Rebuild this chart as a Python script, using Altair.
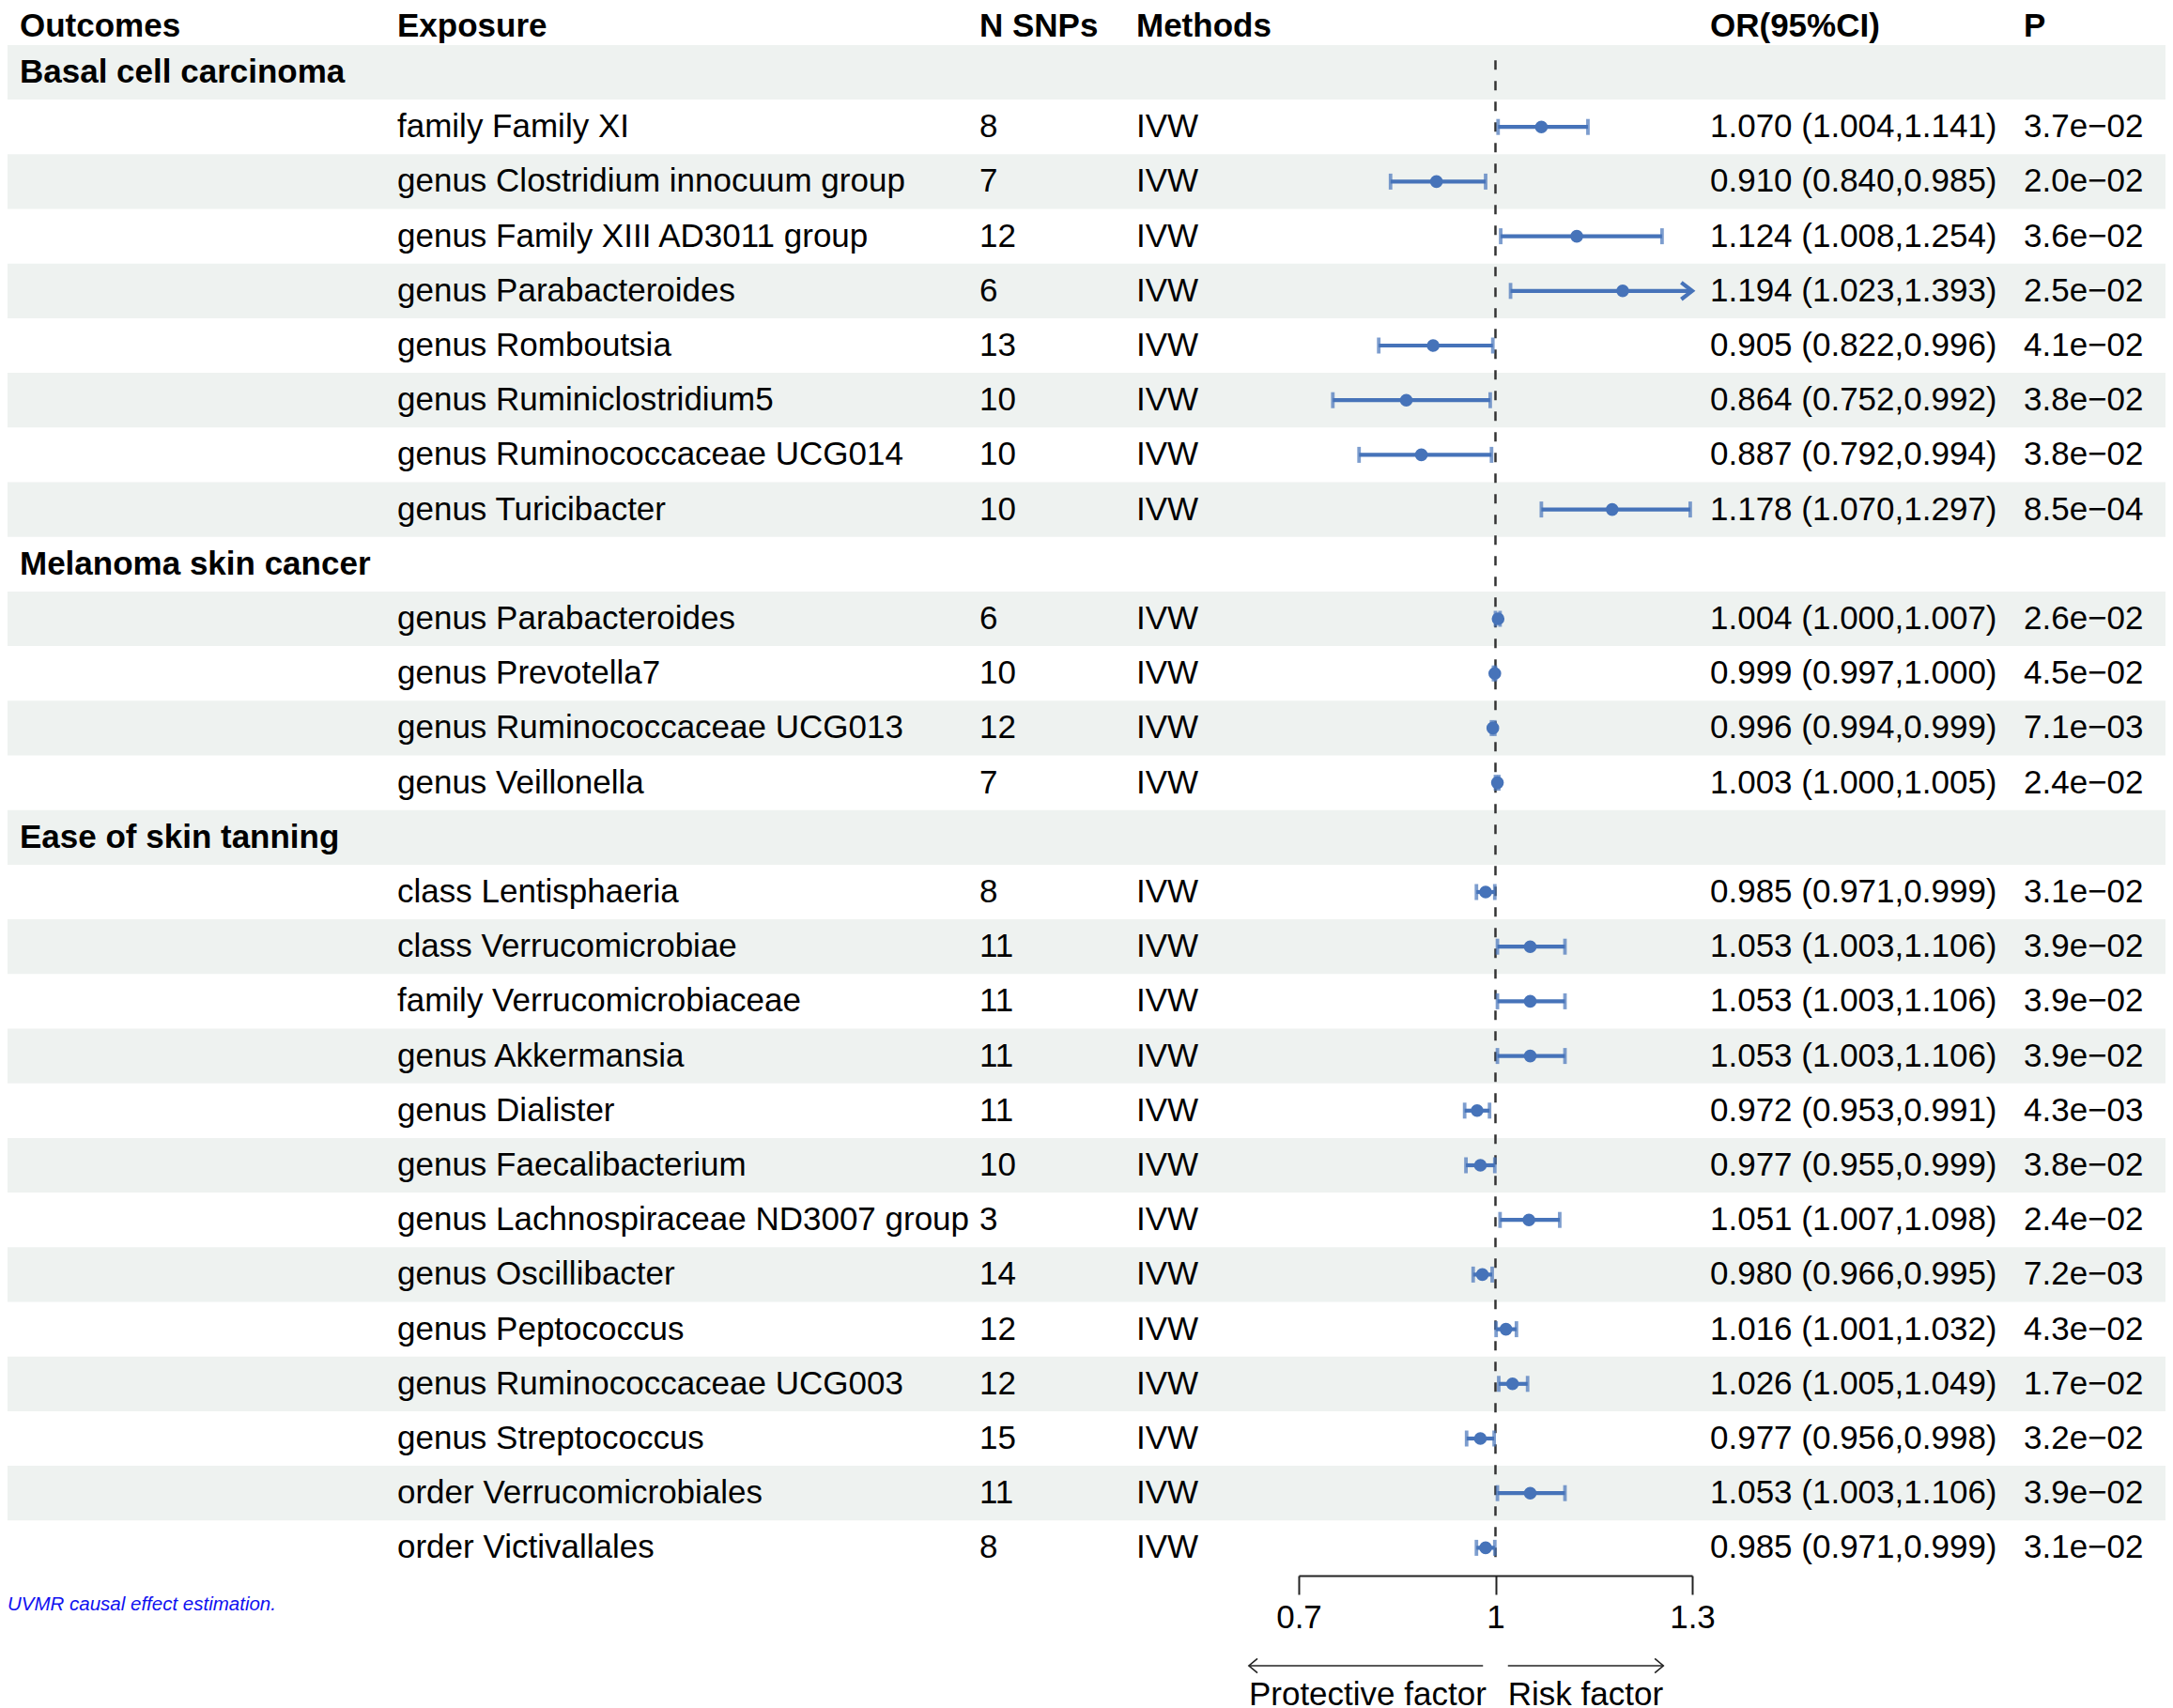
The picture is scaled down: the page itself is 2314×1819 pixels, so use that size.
import altair as alt
import pandas as pd

FONT = "Liberation Sans"
BLUE = "#4673B9"
BAND = "#EEF2F0"

# ---------------- data ----------------
outcomes = ["Basal cell carcinoma", "Melanoma skin cancer", "Ease of skin tanning"]
group_sizes = [8, 4, 13]

exposures = [
    "family Family XI", "genus Clostridium innocuum group", "genus Family XIII AD3011 group",
    "genus Parabacteroides", "genus Romboutsia", "genus Ruminiclostridium5",
    "genus Ruminococcaceae UCG014", "genus Turicibacter",
    "genus Parabacteroides", "genus Prevotella7", "genus Ruminococcaceae UCG013", "genus Veillonella",
    "class Lentisphaeria", "class Verrucomicrobiae", "family Verrucomicrobiaceae", "genus Akkermansia",
    "genus Dialister", "genus Faecalibacterium", "genus Lachnospiraceae ND3007 group",
    "genus Oscillibacter", "genus Peptococcus", "genus Ruminococcaceae UCG003",
    "genus Streptococcus", "order Verrucomicrobiales", "order Victivallales",
]
n_snps = [8, 7, 12, 6, 13, 10, 10, 10,
          6, 10, 12, 7,
          8, 11, 11, 11, 11, 10, 3, 14, 12, 12, 15, 11, 8]
methods = ["IVW"] * 25
or_vals = [1.070, 0.910, 1.124, 1.194, 0.905, 0.864, 0.887, 1.178,
           1.004, 0.999, 0.996, 1.003,
           0.985, 1.053, 1.053, 1.053, 0.972, 0.977, 1.051, 0.980, 1.016, 1.026, 0.977, 1.053, 0.985]
lower = [1.004, 0.840, 1.008, 1.023, 0.822, 0.752, 0.792, 1.070,
         1.000, 0.997, 0.994, 1.000,
         0.971, 1.003, 1.003, 1.003, 0.953, 0.955, 1.007, 0.966, 1.001, 1.005, 0.956, 1.003, 0.971]
upper = [1.141, 0.985, 1.254, 1.393, 0.996, 0.992, 0.994, 1.297,
         1.007, 1.000, 0.999, 1.005,
         0.999, 1.106, 1.106, 1.106, 0.991, 0.999, 1.098, 0.995, 1.032, 1.049, 0.998, 1.106, 0.999]
p_vals = [3.7e-02, 2.0e-02, 3.6e-02, 2.5e-02, 4.1e-02, 3.8e-02, 3.8e-02, 8.5e-04,
          2.6e-02, 4.5e-02, 7.1e-03, 2.4e-02,
          3.1e-02, 3.9e-02, 3.9e-02, 3.9e-02, 4.3e-03, 3.8e-02, 2.4e-02, 7.2e-03, 4.3e-02,
          1.7e-02, 3.2e-02, 3.9e-02, 3.1e-02]

headers = ["Outcomes", "Exposure", "N SNPs", "Methods", "OR(95%CI)", "P"]
x_ticks = [0.7, 1.0, 1.3]
x_domain = [0.7, 1.3]
arrow_left = [0.981, 0.624]    # from, to (OR units)
arrow_right = [1.019, 1.256]
arrow_labels = ["Protective factor", "Risk factor"]
footnote = "UVMR causal effect estimation."

# ---------------- layout (pixels) ----------------
W, H = 2298, 1670
ROW0, ROWH = 69, 58.2
col_x = {"Outcomes": 13, "Exposure": 415, "N SNPs": 1035, "Methods": 1202, "OR(95%CI)": 1813, "P": 2147}

# ---------------- build tables ----------------
group_rows, data_rows = [], []
idx, k = 0, 0
for g, n in zip(outcomes, group_sizes):
    group_rows.append({"row": idx, "outcome": g})
    idx += 1
    for _ in range(n):
        up = upper[k]
        data_rows.append({
            "row": idx,
            "exposure": exposures[k],
            "nsnp": str(n_snps[k]),
            "method": methods[k],
            "or": or_vals[k], "lo": lower[k], "hi": up,
            "hi_c": min(up, x_domain[1]),
            "clipped": up > x_domain[1],
            "ortext": f"{or_vals[k]:.3f} ({lower[k]:.3f},{up:.3f})",
            "ptext": f"{p_vals[k]:.1e}".replace("-", "\u2212"),
        })
        k += 1
        idx += 1
n_rows = idx
gdf = pd.DataFrame(group_rows)
ddf = pd.DataFrame(data_rows)
band_df = pd.DataFrame({"y": [i - 0.5 for i in range(0, n_rows, 2)],
                        "y2": [i + 0.5 for i in range(0, n_rows, 2)]})
caps = pd.concat([
    ddf[["row", "lo"]].rename(columns={"lo": "x"}),
    ddf[~ddf["clipped"]][["row", "hi"]].rename(columns={"hi": "x"}),
])
clip_df = ddf[ddf["clipped"]]
ref_df = pd.DataFrame({"x": [1.0], "y": [-0.22], "y2": [n_rows - 1 + 0.33]})
arrows_df = pd.DataFrame({"x": [arrow_left[0], arrow_right[0]], "x2": [arrow_left[1], arrow_right[1]],
                          "label": arrow_labels,
                          "lx": [arrow_left[1], arrow_right[0]],
                          "shape": ["M 1.2 -1 L 0 0 L 1.2 1", "M -1.2 -1 L 0 0 L -1.2 1"]})
hdr_df = pd.DataFrame({"h": headers})

yscale = alt.Scale(domain=[0, n_rows - 1], range=[ROW0, ROW0 + ROWH * (n_rows - 1)])
xscale = alt.Scale(domain=x_domain, range=[1375, 1794], nice=False, zero=False)
xax = alt.Axis(values=x_ticks, format="~g", title=None, grid=False, orient="bottom",
               domainColor="#222", domainWidth=2, tickColor="#222", tickWidth=2, tickSize=20,
               labelFontSize=35, labelFont=FONT, labelColor="black", labelPadding=7,
               labelFlush=False, labelOverlap=False)


def Y(field):
    return alt.Y(field, type="quantitative", scale=yscale, axis=None)


def X(field):
    return alt.X(field, type="quantitative", scale=xscale, axis=xax)


bands = alt.Chart(band_df).mark_rect(color=BAND).encode(
    x=alt.value(0), x2=alt.value(W), y=Y("y"), y2="y2")

ref = alt.Chart(ref_df).mark_rule(color="#333", strokeWidth=2.5, strokeDash=[10, 12]).encode(
    x=X("x"), y=Y("y"), y2="y2")

whisk = alt.Chart(ddf).mark_rule(color=BLUE, strokeWidth=4.2).encode(
    x=X("lo"), x2="hi_c", y=Y("row"))
capm = alt.Chart(caps).mark_tick(color=BLUE, orient="vertical", size=17, thickness=3.8).encode(
    x=X("x"), y=Y("row"))
clipm = alt.Chart(clip_df).mark_point(shape="M -1.3 -1 L 0 0 L -1.3 1", filled=False, color=BLUE,
                                      strokeWidth=4.2, size=320, opacity=1).encode(
    x=X("hi_c"), y=Y("row"))
dots = alt.Chart(ddf).mark_circle(color=BLUE, size=185, opacity=1).encode(
    x=X("or"), y=Y("row"))

txt = dict(font=FONT, fontSize=35, color="black", align="left", baseline="middle")
hdr_layers = [alt.Chart(hdr_df).transform_filter(alt.datum.h == h).mark_text(
    fontWeight="bold", **{**txt, "baseline": "alphabetic"}).encode(
    x=alt.value(col_x[h]), y=alt.value(31), text="h:N") for h in headers]
grp = alt.Chart(gdf).mark_text(fontWeight="bold", **txt).encode(
    x=alt.value(col_x["Outcomes"]), y=Y("row"), text="outcome:N")
cols = []
for name, field in [("Exposure", "exposure"), ("N SNPs", "nsnp"), ("Methods", "method"),
                    ("OR(95%CI)", "ortext"), ("P", "ptext")]:
    cols.append(alt.Chart(ddf).mark_text(**txt).encode(
        x=alt.value(col_x[name]), y=Y("row"), text=f"{field}:N"))

arr_lines = alt.Chart(arrows_df).mark_rule(color="#222", strokeWidth=1.6).encode(
    x=X("x"), x2="x2", y=alt.value(1766))
arr_heads = [alt.Chart(arrows_df.iloc[[i]]).mark_point(
    shape=arrows_df["shape"].iloc[i], filled=False, color="#222", strokeWidth=1.6, size=230, opacity=1).encode(
    x=X("x2"), y=alt.value(1766)) for i in range(2)]
arr_text = alt.Chart(arrows_df).mark_text(**txt).encode(
    x=X("lx"), y=alt.value(1797), text="label:N")
foot = alt.Chart(pd.DataFrame({"t": [footnote]})).mark_text(
    font=FONT, fontSize=20.5, fontStyle="italic", color="#1010F0", align="left", baseline="middle").encode(
    x=alt.value(0), y=alt.value(1701), text="t:N")

chart = alt.layer(
    bands, ref, whisk, capm, clipm, dots, *hdr_layers, grp, *cols,
    arr_lines, *arr_heads, arr_text, foot
).properties(
    width=W, height=H, background="white",
    padding={"left": 0, "top": 0, "right": 0, "bottom": 0}
).configure_view(stroke="transparent", strokeWidth=0)

chart.save("out.html", embed_options={"renderer": "svg", "actions": False})
